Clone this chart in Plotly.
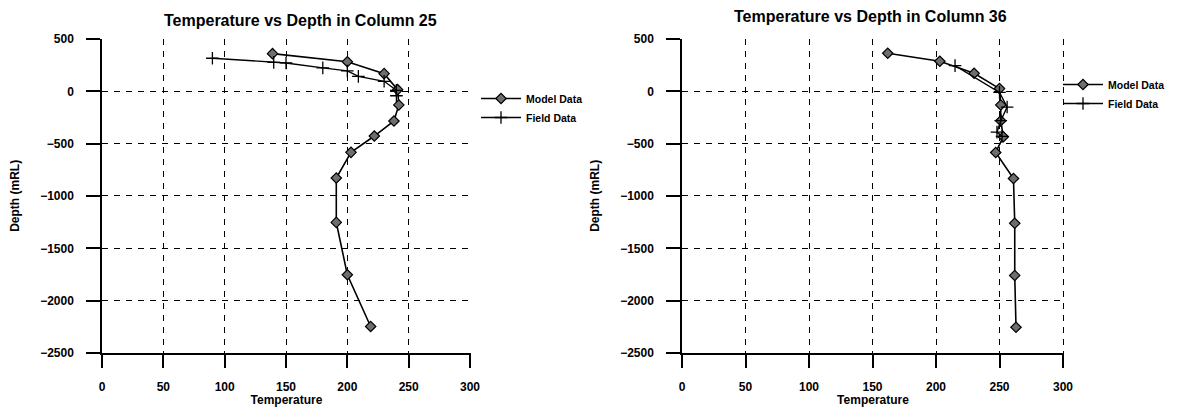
import plotly.graph_objects as go

# Column 25
c25_model_temp = [139, 200, 230, 241, 242, 238, 222, 203, 191, 191, 200, 219]
c25_model_depth = [360, 283, 169, 16, -130, -283, -427, -583, -828, -1252, -1752, -2247]
c25_field_temp = [90, 140, 150, 180, 200, 209, 230, 240, 240]
c25_field_depth = [316, 277, 271, 224, 195, 143, 96, 10, -42]

# Column 36
c36_model_temp = [162, 203, 230, 250, 251, 251, 253, 247, 261, 262, 262, 263]
c36_model_depth = [364, 287, 172, 26, -130, -281, -434, -584, -833, -1261, -1759, -2254]
c36_field_temp = [215, 250, 256, 251, 248, 252]
c36_field_depth = [246, -10, -150, -280, -390, -430]

x_ticks = [0, 50, 100, 150, 200, 250, 300]
y_ticks = [-2500, -2000, -1500, -1000, -500, 0, 500]
titles = ["Temperature vs Depth in Column 25", "Temperature vs Depth in Column 36"]

FONT = "Liberation Sans, Arial, sans-serif"
OFF = 8  # page body margin
W, H = 1178 - 2 * OFF, 407 - OFF

fig = go.Figure()

def add_pair(mt, md, ft, fd, xa, ya, leg):
    fig.add_trace(go.Scatter(
        x=mt, y=md, mode="lines+markers", name="Model Data",
        xaxis=xa, yaxis=ya, legend=leg,
        line=dict(color="black", width=1.6),
        marker=dict(symbol="diamond", size=8, color="#6e6e6e",
                    line=dict(color="black", width=1.2)),
    ))
    fig.add_trace(go.Scatter(
        x=ft, y=fd, mode="lines+markers", name="Field Data",
        xaxis=xa, yaxis=ya, legend=leg,
        line=dict(color="black", width=1.4),
        marker=dict(symbol="cross-thin", size=9, color="black",
                    line=dict(color="black", width=1.3)),
    ))

add_pair(c25_model_temp, c25_model_depth, c25_field_temp, c25_field_depth, "x", "y", "legend")
add_pair(c36_model_temp, c36_model_depth, c36_field_temp, c36_field_depth, "x2", "y2", "legend2")

XR = [0, 300.8]
YR = [-2500, 503]

def xaxis(dom, anchor):
    return dict(
        domain=dom, anchor=anchor, range=XR, tickvals=x_ticks, automargin=False,
        showline=True, linecolor="black", linewidth=1.5, mirror=False,
        showgrid=True, gridcolor="black", gridwidth=1.2, griddash="6px,6px",
        zeroline=False, ticks="outside", ticklen=13, tickwidth=1.5, tickcolor="black",
        ticklabelstandoff=9,
        tickfont=dict(family=FONT, size=12, color="black", weight="bold"),
        title=dict(text="Temperature", standoff=1,
                   font=dict(family=FONT, size=12, color="black", weight="bold")),
    )

def xaxis_inner(over, anchor):
    # short inward tick stubs so the ticks cross the axis line
    return dict(
        overlaying=over, anchor=anchor, range=XR, tickvals=x_ticks, automargin=False,
        showline=False, showgrid=False, zeroline=False, showticklabels=False,
        ticks="inside", ticklen=6, tickwidth=1.5, tickcolor="black",
    )

def yaxis(dom, anchor):
    return dict(
        domain=dom, anchor=anchor, range=YR, tickvals=y_ticks, automargin=False,
        showline=True, linecolor="black", linewidth=1.5, mirror=False,
        showgrid=True, gridcolor="black", gridwidth=1.2, griddash="6px,6px",
        zeroline=False, ticks="outside", ticklen=14, tickwidth=1.5, tickcolor="black",
        ticklabelstandoff=10,
        tickfont=dict(family=FONT, size=12, color="black", weight="bold"),
        title=dict(text="Depth (mRL)", standoff=18,
                   font=dict(family=FONT, size=12, color="black", weight="bold")),
    )

def px(v):
    return v - OFF

# plot-area pixel extents (value 300 / 500 land at the reference pixels)
lx0, lx1 = px(102), px(102) + 368 * XR[1] / 300
rx0, rx1 = px(682), px(682) + 381 * XR[1] / 300
ybot = px(353)
ytop = ybot - 314 * (YR[1] - YR[0]) / 3000
ydom = [1 - ybot / H, 1 - ytop / H]

fig.update_layout(
    width=W, height=H, autosize=False,
    margin=dict(l=0, r=0, t=0, b=0, pad=0),
    font=dict(family=FONT, color="black"),
    paper_bgcolor="white", plot_bgcolor="white",
    xaxis=xaxis([lx0 / W, lx1 / W], "y"),
    yaxis=yaxis(ydom, "x"),
    xaxis2=xaxis([rx0 / W, rx1 / W], "y2"),
    yaxis2=yaxis(ydom, "x2"),
    xaxis3=xaxis_inner("x", "y"),
    xaxis4=xaxis_inner("x2", "y2"),
    legend=dict(x=px(476) / W, y=1 - px(84) / H, xanchor="left", yanchor="top",
                bgcolor="rgba(0,0,0,0)", tracegroupgap=0, itemwidth=40,
                font=dict(family=FONT, size=10.5, color="black", weight="bold")),
    legend2=dict(x=px(1058) / W, y=1 - px(70) / H, xanchor="left", yanchor="top",
                 bgcolor="rgba(0,0,0,0)", tracegroupgap=0, itemwidth=40,
                 font=dict(family=FONT, size=10.5, color="black", weight="bold")),
    annotations=[
        dict(text=titles[0], x=px(300) / W, y=1 - px(20) / H, xref="paper", yref="paper",
             showarrow=False, xanchor="center", yanchor="middle",
             font=dict(family=FONT, size=16, color="black", weight="bold")),
        dict(text=titles[1], x=px(870) / W, y=1 - px(16) / H, xref="paper", yref="paper",
             showarrow=False, xanchor="center", yanchor="middle",
             font=dict(family=FONT, size=16, color="black", weight="bold")),
    ],
)

fig.write_html("out.html")
